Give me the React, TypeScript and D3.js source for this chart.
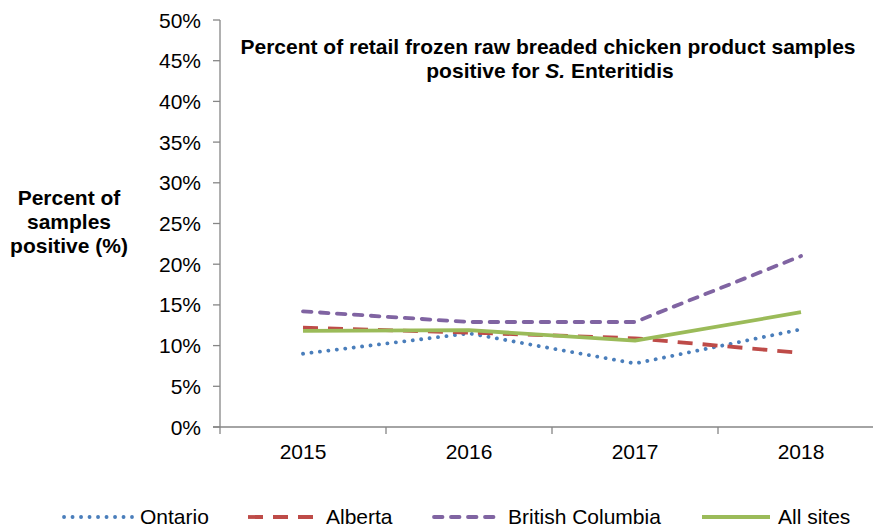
import React from "react";
import * as d3 from "d3";

const width = 873;
const height = 528;
const margin = { top: 20, right: -11, bottom: 101, left: 220 };

const years = ["2015", "2016", "2017", "2018"];
const yTicks = [0, 5, 10, 15, 20, 25, 30, 35, 40, 45, 50];

const ontario = [9.0, 11.5, 7.8, 12.0];
const alberta = [12.2, 11.6, 10.9, 9.1];
const britishColumbia = [14.2, 12.9, 12.9, 21.0];
const allSites = [11.8, 11.9, 10.6, 14.1];

const series = [
  { name: "Ontario", values: ontario, color: "#4A7EBB", dash: "0.1 8.4", cap: "round", w: 3.8, lx: 64, tx: 140 },
  { name: "Alberta", values: alberta, color: "#BE4B48", dash: "15 10", cap: "butt", w: 3.8, lx: 248, tx: 326 },
  { name: "British Columbia", values: britishColumbia, color: "#8064A2", dash: "8.5 8.5", cap: "round", w: 3.8, lx: 434, tx: 508 },
  { name: "All sites", values: allSites, color: "#9BBB59", dash: null, cap: "butt", w: 3.8, lx: 702, tx: 778 },
];

const font = "'Liberation Sans', Arial, sans-serif";
const axisColor = "#868686";

export default function App() {
  const x = d3.scaleBand().domain(years).range([margin.left, width - margin.right]).padding(0);
  const y = d3.scaleLinear().domain([0, 50]).range([height - margin.bottom, margin.top]);
  const cx = (yr: string) => (x(yr) as number) + x.bandwidth() / 2;

  const line = d3.line<number>()
    .x((d, i) => cx(years[i]))
    .y(d => y(d));

  const x0 = margin.left;
  const y0 = y(0);
  const bounds = [...years.map(yr => x(yr) as number), (x(years[years.length - 1]) as number) + x.bandwidth()];

  return (
    <svg width={width} height={height} style={{ position: "absolute", left: 0, top: 0, background: "#fff" }} fontFamily={font}>
      {/* y axis */}
      <line x1={x0} x2={x0} y1={y(50)} y2={y0} stroke={axisColor} strokeWidth={1.3} />
      {yTicks.map(t => (
        <g key={t}>
          <line x1={x0 - 7} x2={x0} y1={y(t)} y2={y(t)} stroke={axisColor} strokeWidth={1.3} />
          <text x={201} y={y(t) + 7.5} textAnchor="end" fontSize={21} fill="#000">{t}%</text>
        </g>
      ))}
      {/* x axis */}
      <line x1={x0 - 7} x2={width} y1={y0} y2={y0} stroke={axisColor} strokeWidth={1.3} />
      {bounds.map((b, i) => (
        <line key={i} x1={b} x2={b} y1={y0} y2={y0 + 7} stroke={axisColor} strokeWidth={1.3} />
      ))}
      {years.map(yr => (
        <text key={yr} x={cx(yr)} y={459} textAnchor="middle" fontSize={21} fill="#000">{yr}</text>
      ))}

      {/* series */}
      {series.map(s => (
        <path key={s.name} d={line(s.values) || ""} fill="none" stroke={s.color} strokeWidth={s.w}
          strokeDasharray={s.dash || undefined} strokeLinecap={s.cap as any} strokeLinejoin="round" />
      ))}

      {/* title */}
      <text x={548} y={54} textAnchor="middle" fontSize={21} fontWeight="bold" fill="#000">
        Percent of retail frozen raw breaded chicken product samples
      </text>
      <text x={550} y={78} textAnchor="middle" fontSize={21} fontWeight="bold" fill="#000">
        positive for <tspan fontStyle="italic">S.</tspan> Enteritidis
      </text>

      {/* y label */}
      <text textAnchor="middle" fontSize={21} fontWeight="bold" fill="#000">
        <tspan x={69} y={205}>Percent of</tspan>
        <tspan x={69} y={229}>samples</tspan>
        <tspan x={69} y={253}>positive (%)</tspan>
      </text>

      {/* legend */}
      {series.map(s => (
        <g key={s.name}>
          <line x1={s.lx} x2={s.tx - 8} y1={517} y2={517} stroke={s.color} strokeWidth={s.w}
            strokeDasharray={s.dash || undefined} strokeLinecap={s.cap as any} />
          <text x={s.tx} y={524} fontSize={21} fill="#000">{s.name}</text>
        </g>
      ))}
    </svg>
  );
}
